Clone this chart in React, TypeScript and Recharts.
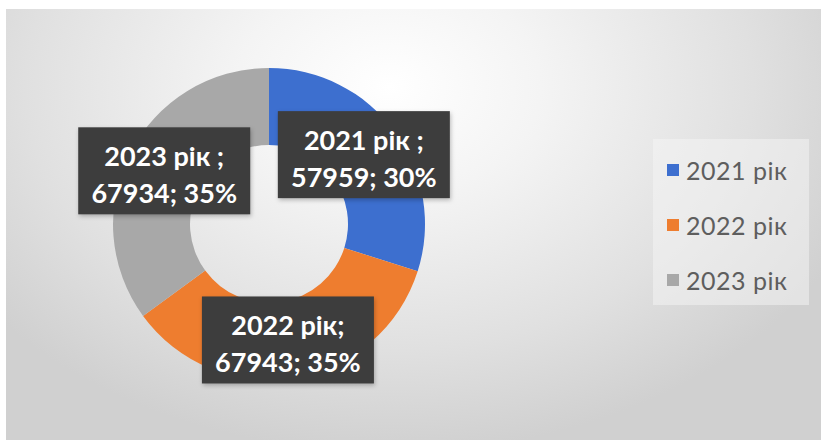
import React from "react";
import { PieChart, Pie, Cell, Legend } from "recharts";

const years = ["2021 рік", "2022 рік", "2023 рік"];
const values = [57959, 67943, 67934];
const labelSeparators = [" ;", ";", " ;"];
const colors = ["#3D6FCF", "#EE7D2F", "#A8A8A8"];

const data = years.map((name, i) => ({ name, value: values[i], sep: labelSeparators[i] }));

const RADIAN = Math.PI / 180;
const BOX_W = 172;
const BOX_H = 87;

function renderLabel(props: any) {
  const { cx, cy, midAngle, innerRadius, outerRadius, percent, payload } = props;
  const r = (innerRadius + outerRadius) / 2;
  const x = cx + r * Math.cos(-midAngle * RADIAN);
  const y = cy + r * Math.sin(-midAngle * RADIAN);
  const line1 = `${payload.name}${payload.sep}`;
  const line2 = `${payload.value}; ${Math.round(percent * 100)}%`;
  return (
    <g>
      <rect
        x={x - BOX_W / 2}
        y={y - BOX_H / 2}
        width={BOX_W}
        height={BOX_H}
        fill="#3d3d3d"
        style={{ filter: "drop-shadow(1px 2px 2px rgba(0,0,0,0.25))" }}
      />
      <text
        x={x}
        y={y - 15}
        textAnchor="middle"
        dominantBaseline="central"
        fill="#ffffff"
        fontFamily="Lato, 'Open Sans', sans-serif"
        fontWeight={700}
        fontSize={27}
      >
        {line1}
      </text>
      <text
        x={x}
        y={y + 22}
        textAnchor="middle"
        dominantBaseline="central"
        fill="#ffffff"
        fontFamily="Lato, 'Open Sans', sans-serif"
        fontWeight={700}
        fontSize={27}
      >
        {line2}
      </text>
    </g>
  );
}

function LegendBox(props: any) {
  const items = props.payload || [];
  return (
    <div
      style={{
        width: 156,
        height: 166,
        background: "rgba(246,246,246,0.5)",
        boxSizing: "border-box",
        paddingTop: 17,
        paddingLeft: 14,
      }}
    >
      {items.map((item: any) => (
        <div
          key={item.value}
          style={{
            display: "flex",
            alignItems: "center",
            height: 28,
            marginBottom: 27,
            fontFamily: "Lato, 'Open Sans', sans-serif",
            fontSize: 25,
            letterSpacing: 0.5,
            color: "#5e5e5e",
          }}
        >
          <span
            style={{
              display: "inline-block",
              width: 12,
              height: 12,
              background: item.color,
              marginRight: 7,
            }}
          />
          {item.value}
        </div>
      ))}
    </div>
  );
}

export default function App() {
  return (
    <div
      style={{
        position: "absolute",
        left: 0,
        top: 0,
        width: 821,
        height: 440,
        background: "#ffffff",
        overflow: "hidden",
      }}
    >
      <div
        style={{
          position: "absolute",
          left: 6,
          top: 9,
          width: 815,
          height: 431,
          background:
            "radial-gradient(ellipse 62% 85% at 47% 18%, #ffffff 0%, #f4f4f4 30%, #e0e0e0 72%, #d0d0d0 100%)",
        }}
      />
      <div style={{ position: "absolute", left: 0, top: 0 }}>
        <PieChart width={821} height={440} margin={{ top: 0, right: 0, bottom: 0, left: 0 }}>
          <Pie
            data={data}
            dataKey="value"
            nameKey="name"
            cx={269}
            cy={224}
            innerRadius={79}
            outerRadius={156}
            startAngle={90}
            endAngle={-270}
            stroke="none"
            label={renderLabel}
            labelLine={false}
            isAnimationActive={false}
          >
            {data.map((d, i) => (
              <Cell key={d.name} fill={colors[i]} />
            ))}
          </Pie>
          <Legend
            layout="vertical"
            content={<LegendBox />}
            wrapperStyle={{ position: "absolute", left: 653, top: 139, width: 156 }}
          />
        </PieChart>
      </div>
    </div>
  );
}
